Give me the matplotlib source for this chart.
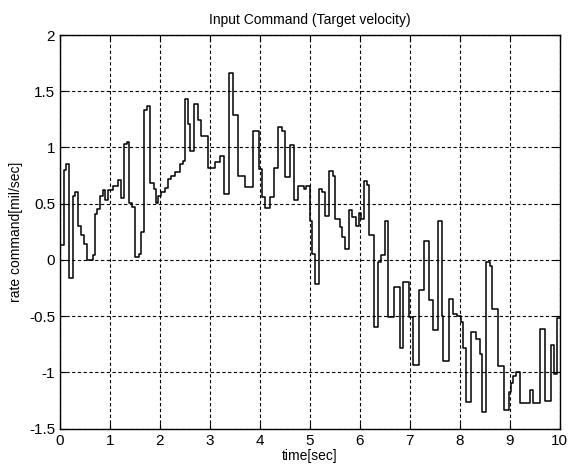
import matplotlib
matplotlib.use("Agg")
import matplotlib.pyplot as plt
import numpy as np

# Step start times (sec) and command values (mil/sec)
step_times = [0.00, 0.09, 0.13, 0.18, 0.27, 0.31, 0.37, 0.43, 0.49, 0.55, 0.66,
              0.70, 0.75, 0.80, 0.86, 0.91, 0.97, 1.06, 1.17, 1.23, 1.29, 1.34,
              1.39, 1.45, 1.50, 1.58, 1.62, 1.69, 1.74, 1.80, 1.88, 1.92, 1.97,
              2.03, 2.10, 2.17, 2.22, 2.30, 2.40, 2.47, 2.51, 2.57, 2.60, 2.69,
              2.77, 2.83, 2.97, 3.10, 3.20, 3.28, 3.39, 3.47, 3.57, 3.70, 3.87,
              3.98, 4.05, 4.10, 4.20, 4.29, 4.37, 4.45, 4.50, 4.60, 4.69, 4.77,
              4.89, 4.93, 5.00, 5.05, 5.10, 5.18, 5.24, 5.31, 5.38, 5.46, 5.51,
              5.60, 5.65, 5.70, 5.78, 5.85, 5.93, 5.98, 6.03, 6.09, 6.14, 6.18,
              6.28, 6.37, 6.43, 6.50, 6.57, 6.68, 6.80, 6.87, 6.99, 7.07, 7.18,
              7.28, 7.38, 7.46, 7.56, 7.64, 7.67, 7.78, 7.86, 7.95, 8.02, 8.07,
              8.13, 8.22, 8.32, 8.40, 8.45, 8.53, 8.60, 8.64, 8.76, 8.88, 8.98,
              9.03, 9.07, 9.12, 9.20, 9.40, 9.47, 9.60, 9.71, 9.82, 9.88, 9.95]
step_values = [0.13, 0.80, 0.85, -0.16, 0.57, 0.60, 0.30, 0.22, 0.14, 0.00, 0.04,
               0.41, 0.45, 0.57, 0.62, 0.53, 0.62, 0.66, 0.71, 0.55, 1.03, 1.05,
               0.51, 0.47, 0.03, 0.05, 0.25, 1.33, 1.37, 0.68, 0.63, 0.51, 0.57,
               0.60, 0.64, 0.72, 0.75, 0.78, 0.85, 0.88, 1.43, 1.21, 0.97, 1.39,
               1.24, 1.10, 0.82, 0.87, 0.92, 0.59, 1.66, 1.29, 0.75, 0.65, 1.15,
               0.81, 0.56, 0.46, 0.56, 0.82, 1.18, 1.15, 0.74, 1.02, 0.53, 0.66,
               0.63, 0.66, 0.35, 0.05, -0.21, 0.63, 0.60, 0.39, 0.79, 0.75, 0.36,
               0.29, 0.20, 0.10, 0.44, 0.38, 0.30, 0.42, 0.36, 0.70, 0.67, 0.22,
               -0.60, -0.02, 0.04, 0.35, -0.51, -0.24, -0.78, -0.20, -0.51, -0.93, -0.27,
               0.17, -0.36, -0.62, 0.35, -0.50, -0.90, -0.35, -0.48, -0.50, -0.55, -0.78,
               -1.26, -0.64, -0.70, -0.84, -1.35, -0.02, -0.05, -0.44, -0.94, -1.33, -1.17,
               -1.09, -1.03, -1.00, -1.27, -1.16, -1.27, -0.61, -1.25, -0.76, -1.01, -0.52]
t_end = 10.0

x_ticks = [0, 1, 2, 3, 4, 5, 6, 7, 8, 9, 10]
y_ticks = [-1.5, -1, -0.5, 0, 0.5, 1, 1.5, 2]
y_tick_labels = ["-1.5", "-1", "-0.5", "0", "0.5", "1", "1.5", "2"]

plt.rcParams['font.family'] = ['Liberation Sans', 'DejaVu Sans']

fig = plt.figure(figsize=(5.68, 4.70), dpi=100)
ax = fig.add_axes([0.1056, 0.088, 0.880, 0.8375])

xs = list(step_times) + [t_end]
ys = list(step_values) + [step_values[-1]]
ax.step(xs, ys, where='post', color='black', linewidth=1.1)

ax.set_xlim(0, 10)
ax.set_ylim(-1.5, 2)
ax.set_xticks(x_ticks)
ax.set_yticks(y_ticks)
ax.set_yticklabels(y_tick_labels)
ax.tick_params(direction='in', length=4, labelsize=11, top=True, right=True,
               width=0.8)
ax.grid(True, color='black', linestyle=(0, (3, 2.2)), linewidth=0.8)
for s in ax.spines.values():
    s.set_linewidth(1.0)
    s.set_color('black')

ax.set_title("Input Command (Target velocity)", fontsize=10, pad=8)
ax.set_xlabel("time[sec]", fontsize=10, labelpad=1)
ax.set_ylabel("rate command[mil/sec]", fontsize=10, labelpad=4)

fig.savefig("out.png", dpi=100, facecolor='white')
